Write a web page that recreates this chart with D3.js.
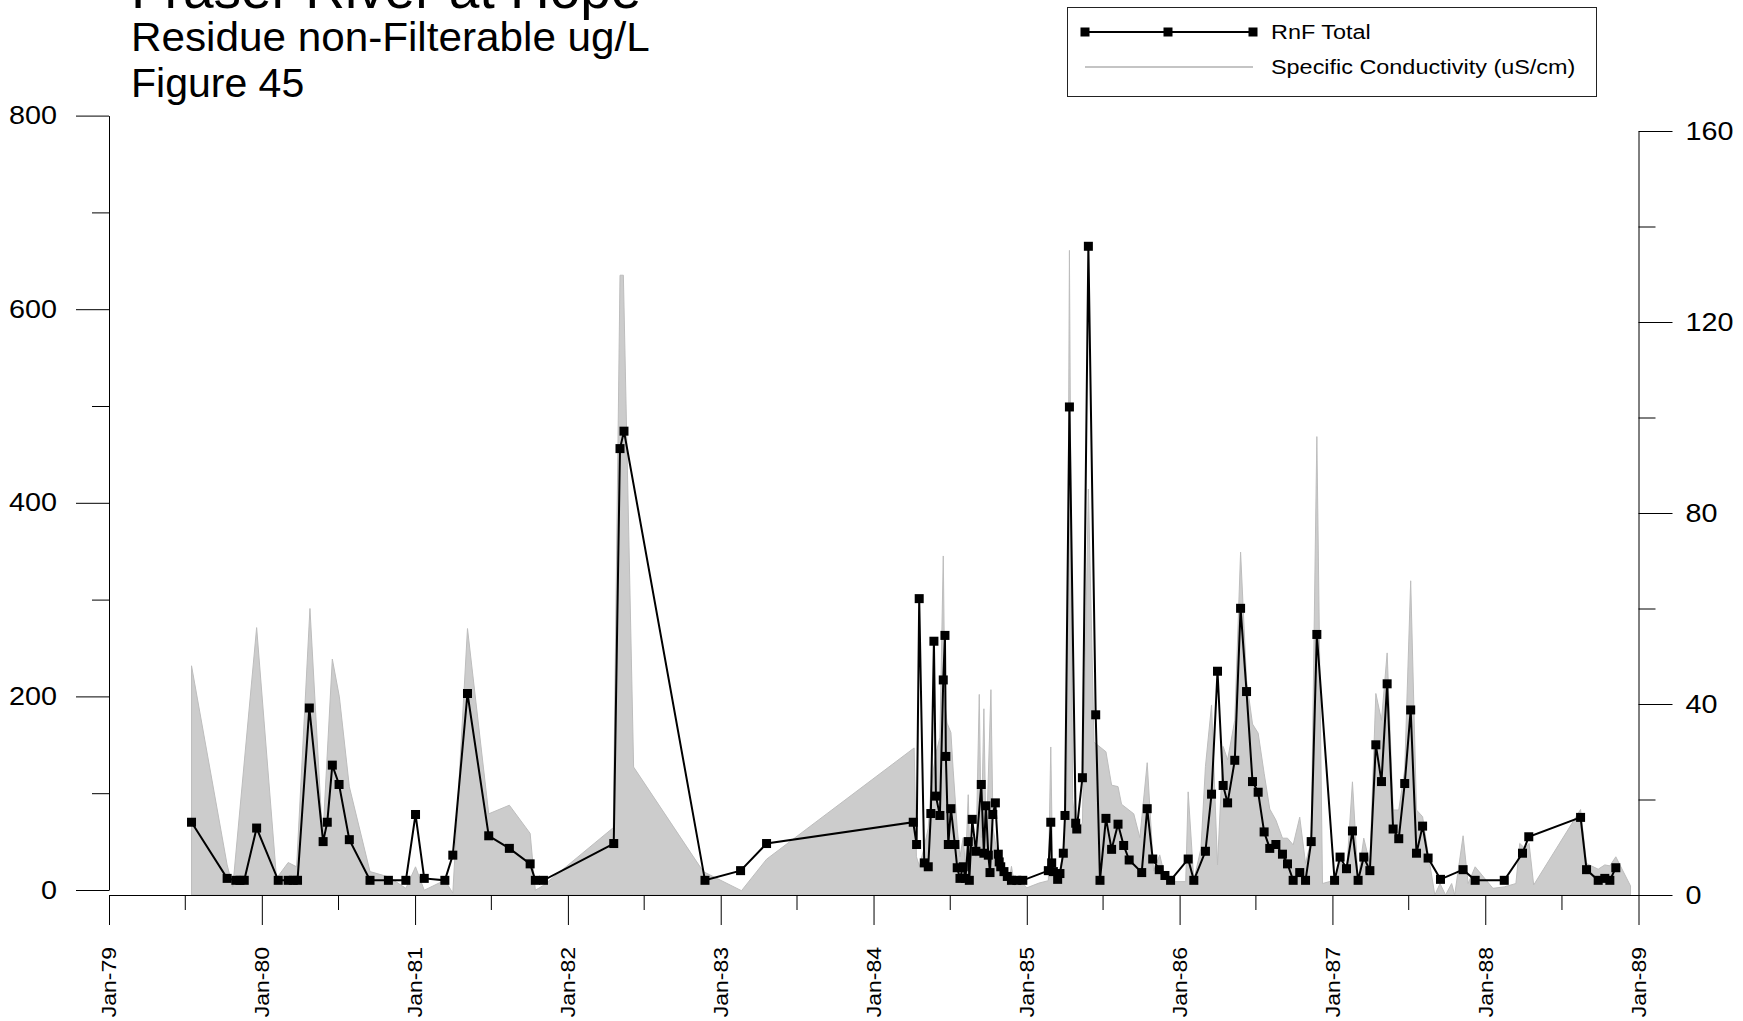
<!DOCTYPE html>
<html>
<head>
<meta charset="utf-8">
<script src="https://cdnjs.cloudflare.com/ajax/libs/d3/7.8.5/d3.min.js"></script>
<style>
body { margin: 0; background: #fff; }
svg { display: block; font-family: "Liberation Sans", Arial, sans-serif; }
</style>
</head>
<body>
<svg id="chart" width="1743" height="1021"></svg>
<script>
// sample dates are decimal years
const rnfDates = [
	1979.54, 1979.773, 1979.83, 1979.857, 1979.885, 1979.966, 1980.107, 1980.172, 1980.205, 1980.233,
	1980.31, 1980.40, 1980.427, 1980.46, 1980.504, 1980.571, 1980.706, 1980.826, 1980.94, 1981.003,
	1981.06, 1981.195, 1981.247, 1981.343, 1981.482, 1981.617, 1981.753, 1981.787, 1981.84, 1982.30,
	1982.341, 1982.367, 1982.897, 1983.13, 1983.30, 1984.259, 1984.281, 1984.298, 1984.331, 1984.357,
	1984.374, 1984.394, 1984.407, 1984.433, 1984.455, 1984.466, 1984.472, 1984.488, 1984.505, 1984.531,
	1984.546, 1984.564, 1984.585, 1984.60, 1984.618, 1984.625, 1984.644, 1984.668, 1984.703, 1984.72,
	1984.733, 1984.749, 1984.76, 1984.778, 1984.795, 1984.814, 1984.82, 1984.83, 1984.851, 1984.873,
	1984.9, 1984.935, 1984.974, 1985.141, 1985.157, 1985.163, 1985.174, 1985.202, 1985.217, 1985.239,
	1985.25, 1985.279, 1985.32, 1985.327, 1985.364, 1985.403, 1985.451, 1985.479, 1985.518, 1985.555,
	1985.597, 1985.634, 1985.67, 1985.752, 1985.788, 1985.824, 1985.867, 1985.904, 1985.941, 1986.056,
	1986.093, 1986.169, 1986.209, 1986.248, 1986.285, 1986.314, 1986.361, 1986.399, 1986.438, 1986.477,
	1986.514, 1986.553, 1986.59, 1986.63, 1986.673, 1986.706, 1986.743, 1986.786, 1986.824, 1986.861,
	1986.898, 1987.014, 1987.05, 1987.092, 1987.131, 1987.168, 1987.205, 1987.245, 1987.284, 1987.321,
	1987.358, 1987.397, 1987.434, 1987.473, 1987.512, 1987.55, 1987.59, 1987.626, 1987.707, 1987.855,
	1987.934, 1988.124, 1988.243, 1988.284, 1988.622, 1988.661, 1988.737, 1988.78, 1988.813, 1988.852
]
const rnfValues = [
	70, 12, 10, 10, 10, 64, 10, 10, 10, 10,
	188, 50, 70, 129, 109, 52, 10, 10, 10, 78,
	12, 10, 36, 203, 56, 43, 27, 10, 10, 48,
	456, 474, 10, 20, 48, 70, 47, 301, 28, 24,
	79, 257, 97, 77, 217, 263, 138, 47, 84, 47,
	23, 12, 24, 12, 50, 10, 73, 40, 109, 38,
	87, 36, 18, 78, 90, 37, 29, 24, 19, 14,
	10, 10, 10, 20, 70, 28, 19, 11, 17, 38,
	77, 499, 69, 63, 116, 665, 181, 10, 74, 42,
	68, 46, 31, 18, 84, 32, 21, 15, 10, 32,
	10, 40, 99, 226, 108, 90, 134, 291, 205, 112,
	101, 60, 43, 47, 37, 27, 10, 18, 10, 50,
	264, 10, 34, 22, 61, 10, 34, 20, 150, 112,
	213, 63, 53, 110, 186, 38, 66, 33, 11, 21,
	10, 10, 38, 55, 75, 21, 10, 12, 10, 23
]

const condDates = [
	1979.54, 1979.773, 1979.81, 1979.966, 1980.096, 1980.172, 1980.227, 1980.314, 1980.397, 1980.46,
	1980.506, 1980.571, 1980.706, 1980.826, 1980.94, 1981.003, 1981.06, 1981.195, 1981.247, 1981.343,
	1981.482, 1981.617, 1981.753, 1981.787, 1981.84, 1982.297, 1982.341, 1982.363, 1982.43, 1982.886,
	1983.136, 1983.30, 1984.265, 1984.28, 1984.30, 1984.33, 1984.357, 1984.374, 1984.394, 1984.41,
	1984.433, 1984.455, 1984.466, 1984.48, 1984.505, 1984.52, 1984.546, 1984.564, 1984.585, 1984.60,
	1984.618, 1984.63, 1984.644, 1984.668, 1984.69, 1984.703, 1984.72, 1984.735, 1984.766, 1984.78,
	1984.80, 1984.83, 1984.86, 1984.88, 1984.90, 1984.92, 1984.96, 1985.0, 1985.08, 1985.141,
	1985.157, 1985.17, 1985.202, 1985.239, 1985.262, 1985.279, 1985.30, 1985.32, 1985.364, 1985.403,
	1985.44, 1985.479, 1985.518, 1985.555, 1985.597, 1985.62, 1985.70, 1985.74, 1985.788, 1985.83,
	1985.87, 1985.91, 1985.95, 1986.04, 1986.056, 1986.093, 1986.14, 1986.169, 1986.209, 1986.248,
	1986.285, 1986.314, 1986.361, 1986.399, 1986.438, 1986.477, 1986.514, 1986.553, 1986.59, 1986.63,
	1986.673, 1986.706, 1986.743, 1986.786, 1986.824, 1986.861, 1986.898, 1986.935, 1987.014, 1987.05,
	1987.092, 1987.131, 1987.168, 1987.205, 1987.245, 1987.284, 1987.321, 1987.358, 1987.397, 1987.434,
	1987.473, 1987.512, 1987.55, 1987.59, 1987.626, 1987.67, 1987.704, 1987.74, 1987.78, 1987.80,
	1987.855, 1987.888, 1987.934, 1988.05, 1988.124, 1988.2, 1988.225, 1988.258, 1988.286, 1988.316,
	1988.622, 1988.661, 1988.737, 1988.78, 1988.813, 1988.852, 1988.948
]
const condValues = [
	48, 6.3, 1.7, 56, 3.5, 6.8, 5.9, 60, 11.5, 49.4,
	41.5, 22.7, 4.9, 3.8, 1.4, 5.9, 1.0, 3.1, 0.4, 55.8,
	17, 18.8, 12.9, 1, 2, 14.1, 129.8, 129.8, 26.8, 4.9,
	0.9, 7.5, 30.8, 8, 6, 10, 14, 22, 27, 30,
	33, 71, 40, 36, 34, 26, 14, 8, 12, 6,
	21, 6, 12, 8, 42, 12, 39, 10, 43, 14,
	10, 6, 4, 2, 6, 2, 3, 1.5, 2.5, 3,
	31, 4, 3, 9, 22, 135, 20, 14, 15, 85,
	32, 31, 30, 23, 22.7, 19, 17, 12, 27.7, 5,
	8.4, 3, 2.8, 2.8, 21.6, 3.1, 9.8, 26.9, 39.8, 6.3,
	31.1, 28.3, 36.6, 71.8, 45, 35.8, 33.9, 25.5, 18, 15.7,
	11.9, 11.9, 10.5, 16.3, 6.6, 11.5, 96, 2.4, 3.1, 7.3,
	4.5, 23.7, 3.1, 11.9, 6.6, 42.2, 36.6, 50.7, 17.8, 17.8,
	26.2, 65.8, 17.8, 16.4, 8.7, 0, 2.4, 0, 2.4, 0,
	12.4, 2.4, 5.9, 1.4, 1.7, 2.4, 10.8, 9.8, 10.8, 2.1,
	17.9, 6.6, 5.4, 6.3, 6.1, 8, 1.9
]

const leftMajor = [0, 200, 400, 600, 800]
const leftMinor = [100, 300, 500, 700]
const rightMajor = [0, 40, 80, 120, 160]
const rightMinor = [20, 60, 100, 140]
const titleLines = ["Fraser River at Hope", "Residue non-Filterable ug/L", "Figure 45"]
const legendLabels = ["RnF Total", "Specific Conductivity (uS/cm)"]

// decimal year -> Date
function toDate(t) {
	let y = Math.floor(t)
	let a = Date.UTC(y, 0, 1), b = Date.UTC(y + 1, 0, 1)
	return new Date(a + (t - y) * (b - a))
}

let rnf = rnfDates.map((t, i) => ({ date: toDate(t), value: rnfValues[i] }))
let cond = condDates.map((t, i) => ({ date: toDate(t), value: condValues[i] }))

let svg = d3.select("#chart")
let start = new Date(Date.UTC(1979, 0, 1)), end = new Date(Date.UTC(1989, 0, 1))

let x = d3.scaleUtc().domain([start, end]).range([109, 1638.5])
let yL = d3.scaleLinear().domain([0, 800]).range([890, 115.6])
let yR = d3.scaleLinear().domain([0, 160]).range([895, 131])

// stretch text a bit wider, the original output is horizontally wide
function stretch(sel, k) {
	sel.each(function () {
		let w = this.getComputedTextLength()
		d3.select(this).attr("textLength", w * k).attr("lengthAdjust", "spacingAndGlyphs")
	})
}

// conductivity area (right axis)
let area = d3.area()
	.x(d => x(d.date))
	.y0(yR(0))
	.y1(d => yR(d.value))

svg.append("path")
	.datum(cond)
	.attr("d", area)
	.attr("fill", "#cccccc")
	.attr("stroke", "#bdbdbd")
	.attr("stroke-width", 1)

// axes
function styleAxis(g) {
	g.attr("font-family", null).attr("font-size", null)
	g.selectAll("path, line").attr("stroke", "#000")
	g.selectAll("text").attr("fill", "#000")
}

let years = d3.utcYear.range(start, new Date(Date.UTC(1989, 0, 2)))
let julys = d3.utcMonth.range(start, end).filter(d => d.getUTCMonth() === 6)

let gx = svg.append("g")
	.attr("transform", "translate(0,895)")
	.call(d3.axisBottom(x).tickValues(years).tickSize(30).tickSizeOuter(0).tickFormat(d3.utcFormat("%b-%y")))
	.call(styleAxis)
gx.selectAll("text")
	.attr("transform", "rotate(-90)")
	.attr("x", -52)
	.attr("y", 0)
	.attr("dy", "0.35em")
	.attr("text-anchor", "end")
	.attr("font-size", 19.5)
	.call(stretch, 1.18)

svg.append("g")
	.attr("transform", "translate(0,895)")
	.call(d3.axisBottom(x).tickValues(julys).tickSize(15).tickFormat(""))
	.call(styleAxis)
	.select(".domain").remove()

let gl = svg.append("g")
	.attr("transform", "translate(109,0)")
	.call(d3.axisLeft(yL).tickValues(leftMajor).tickSize(33).tickPadding(19).tickSizeOuter(0))
	.call(styleAxis)
gl.selectAll("text").attr("font-size", 25).call(stretch, 1.15)

svg.append("g")
	.attr("transform", "translate(109,0)")
	.call(d3.axisLeft(yL).tickValues(leftMinor).tickSize(17).tickFormat(""))
	.call(styleAxis)
	.select(".domain").remove()

let gr = svg.append("g")
	.attr("transform", "translate(1638.5,0)")
	.call(d3.axisRight(yR).tickValues(rightMajor).tickSize(34).tickPadding(13).tickSizeOuter(0))
	.call(styleAxis)
gr.selectAll("text").attr("font-size", 25).call(stretch, 1.15)

svg.append("g")
	.attr("transform", "translate(1638.5,0)")
	.call(d3.axisRight(yR).tickValues(rightMinor).tickSize(17).tickFormat(""))
	.call(styleAxis)
	.select(".domain").remove()

// RnF line + square markers (left axis)
let line = d3.line()
	.x(d => x(d.date))
	.y(d => yL(d.value))

svg.append("path")
	.datum(rnf)
	.attr("d", line)
	.attr("fill", "none")
	.attr("stroke", "#000")
	.attr("stroke-width", 2)

let ms = 9
svg.append("g")
	.selectAll("rect")
	.data(rnf)
	.join("rect")
	.attr("x", d => x(d.date) - ms / 2)
	.attr("y", d => yL(d.value) - ms / 2)
	.attr("width", ms)
	.attr("height", ms)
	.attr("fill", "#000")

// titles (top line runs off the page in the original)
svg.append("text").attr("x", 131).attr("y", 8).attr("font-size", 55).text(titleLines[0])
svg.append("text").attr("x", 131).attr("y", 51).attr("font-size", 41).text(titleLines[1])
	.call(stretch, 1.03)
svg.append("text").attr("x", 131).attr("y", 97).attr("font-size", 41).text(titleLines[2])

// legend
let lg = svg.append("g")
lg.append("rect")
	.attr("x", 1067.5).attr("y", 7.5).attr("width", 529).attr("height", 89)
	.attr("fill", "#fff").attr("stroke", "#222").attr("stroke-width", 1)

lg.append("line")
	.attr("x1", 1085).attr("x2", 1253).attr("y1", 32).attr("y2", 32)
	.attr("stroke", "#000").attr("stroke-width", 2)
lg.selectAll(".lm")
	.data([1085, 1168, 1253])
	.join("rect")
	.attr("class", "lm")
	.attr("x", d => d - ms / 2).attr("y", 32 - ms / 2)
	.attr("width", ms).attr("height", ms)
	.attr("fill", "#000")
lg.append("line")
	.attr("x1", 1085).attr("x2", 1253).attr("y1", 67).attr("y2", 67)
	.attr("stroke", "#c4c4c4").attr("stroke-width", 2)

lg.append("text").attr("x", 1271).attr("y", 39).attr("font-size", 19.5).text(legendLabels[0])
	.call(stretch, 1.2)
lg.append("text").attr("x", 1271).attr("y", 74).attr("font-size", 19.5).text(legendLabels[1])
	.call(stretch, 1.2)
</script>
</body>
</html>
